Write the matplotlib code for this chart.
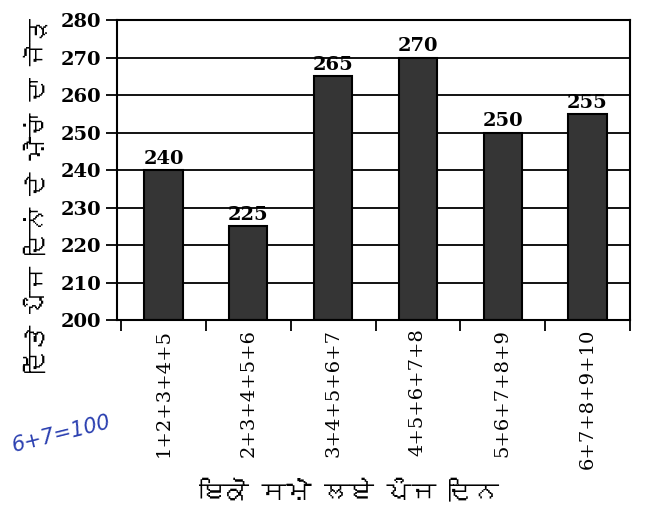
import matplotlib
matplotlib.use("Agg")
import matplotlib.pyplot as plt
from matplotlib import font_manager
from matplotlib.ft2font import FT2Font

categories = ["1+2+3+4+5", "2+3+4+5+6", "3+4+5+6+7", "4+5+6+7+8", "5+6+7+8+9", "6+7+8+9+10"]
values = [240, 225, 265, 270, 250, 255]
yticks = [200, 210, 220, 230, 240, 250, 260, 270, 280]
ylabel = "ਦਿੱਤੇ ਪੰਜ ਦਿਨਾਂ ਦੇ ਮੈਚਾਂ ਦਾ ਜੋੜ"
xlabel = "ਇਕੋ ਸਮੇਂ ਲਏ ਪੰਜ ਦਿਨ"
note = "6+7=100"

# find a font with Gurmukhi glyphs if any is installed
gur_family = None
for f in font_manager.fontManager.ttflist:
    try:
        ft = FT2Font(f.fname)
        if ft.get_char_index(0x0A2A):
            gur_family = f.name
            break
    except Exception:
        pass
gur_fams = ([gur_family] if gur_family else []) + ["DejaVu Sans"]

fig = plt.figure(figsize=(6.46, 5.05), dpi=100)
ax = fig.add_axes([0.181, 0.366, 0.794, 0.594])

n = len(categories)
xs = [i + 0.5 for i in range(n)]
ax.set_axisbelow(True)
ax.yaxis.grid(True, color="black", linewidth=1.3)
bars = ax.bar(xs, [v - 200 for v in values], bottom=200, width=0.45,
              color="#353535", edgecolor="black", linewidth=1.5, zorder=2)
for x, v in zip(xs, values):
    ax.text(x, v + 0.6, str(v), ha="center", va="bottom",
            fontsize=14, fontweight="bold", family="DejaVu Serif")

ax.set_ylim(200, 280)
ax.set_xlim(-0.05, 6)
ax.set_yticks(yticks)
ax.set_yticklabels([str(t) for t in yticks], family="DejaVu Serif", fontsize=14, fontweight="bold")
ax.set_xticks(range(n + 1))
ax.set_xticklabels([])
ax.set_xticks(xs, minor=True)
ax.set_xticklabels(categories, minor=True, rotation=90, family="DejaVu Serif", fontsize=14)
ax.tick_params(axis="x", which="minor", length=0, pad=6)
ax.tick_params(axis="x", which="major", length=8, width=1.3)
ax.tick_params(axis="y", length=8, width=1.3, pad=3)
for s in ax.spines.values():
    s.set_linewidth(1.5)

fig.text(0.055, 0.614, ylabel, rotation=90, ha="center", va="center",
         fontsize=17, family=gur_fams)
fig.text(0.54, 0.028, xlabel, ha="center", va="center",
         fontsize=18, family=gur_fams)
fig.text(0.095, 0.14, note, ha="center", va="center", rotation=14,
         fontsize=15, color="#2a3fb0", style="italic", family="DejaVu Sans")

fig.savefig("out.png", dpi=100, facecolor="white")
